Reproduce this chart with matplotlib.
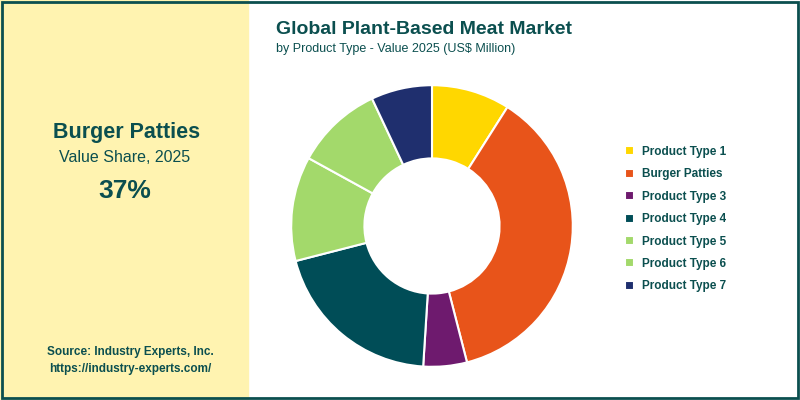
import matplotlib
matplotlib.use("Agg")
import matplotlib.pyplot as plt
from matplotlib.patches import Rectangle

plt.rcParams["font.family"] = "Liberation Sans"

labels = ["Product Type 1", "Burger Patties", "Product Type 3", "Product Type 4",
          "Product Type 5", "Product Type 6", "Product Type 7"]
values = [9, 37, 5, 20, 12, 10, 7]
colors = ["#FFD700", "#E8541A", "#6E1A6E", "#004D57", "#A3D96B", "#A3D96B", "#1F2F6E"]

teal = "#0B4F4F"
fig = plt.figure(figsize=(8, 4), dpi=100)
fig.patches.append(Rectangle((0, 0), 0.31, 1, transform=fig.transFigure, color="#FFF3B0", zorder=0))
fig.patches.append(Rectangle((0.002, 0.004), 0.996, 0.992, transform=fig.transFigure,
                             fill=False, edgecolor=teal, linewidth=2, zorder=5))

fig.text(0.158, 0.655, "Burger Patties", ha="center", fontsize=15.5, fontweight="bold", color=teal)
fig.text(0.156, 0.595, "Value Share, 2025", ha="center", fontsize=11.5, color=teal)
fig.text(0.156, 0.505, "37%", ha="center", fontsize=19, fontweight="bold", color=teal)
fig.text(0.163, 0.07, "Source: Industry Experts, Inc.\nhttps://industry-experts.com/", ha="center",
         fontsize=8.5, color=teal, fontweight="bold", linespacing=1.6)

fig.text(0.345, 0.915, "Global Plant-Based Meat Market", fontsize=14, fontweight="bold", color=teal)
fig.text(0.345, 0.87, "by Product Type - Value 2025 (US$ Million)", fontsize=9, color=teal)

ax = fig.add_axes([0.32, -0.015, 0.44, 0.9])
wedges, _ = ax.pie(values, colors=colors, startangle=90, counterclock=False,
                   wedgeprops=dict(width=0.52, edgecolor="white", linewidth=1.5))
ax.set_aspect("equal")
leg = fig.legend(wedges, labels, loc="center left", bbox_to_anchor=(0.768, 0.452), frameon=False,
                 fontsize=8.5, handlelength=0.8, handleheight=0.8, handletextpad=0.6,
                 labelspacing=0.88)
for t in leg.get_texts():
    t.set_color(teal); t.set_fontweight("bold")
fig.savefig("out.png", dpi=100)
